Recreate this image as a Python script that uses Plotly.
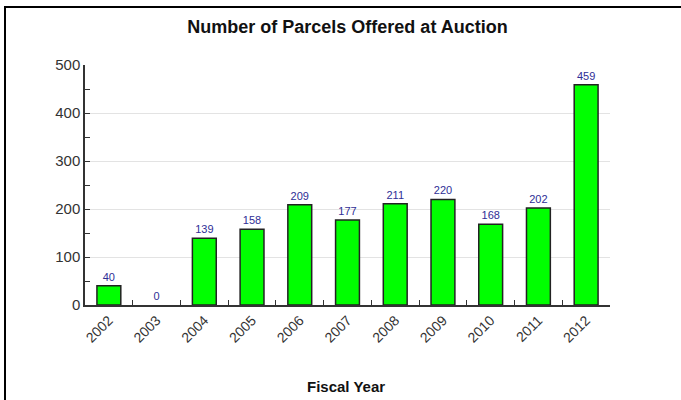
import plotly.graph_objects as go

years = ["2002", "2003", "2004", "2005", "2006", "2007", "2008", "2009", "2010", "2011", "2012"]
parcels = [40, 0, 139, 158, 209, 177, 211, 220, 168, 202, 459]

W, H = 681, 400
L, R, T, B = 85, 71, 65, 95
pw, ph = W - L - R, H - T - B

def px_x(px):
    return (px - L) / pw

def px_y(py):
    return (H - B - py) / ph

fig = go.Figure(go.Bar(
    x=years, y=parcels, width=0.5,
    marker=dict(color="#00ff00",
                line=dict(color="#222222", width=[1.5 if v > 0 else 0 for v in parcels])),
    text=[str(v) for v in parcels], textposition="outside",
    textfont=dict(family="Liberation Sans, Arial", size=11, color="#2e2e96"),
    cliponaxis=False, hoverinfo="skip",
))

fig.update_layout(
    width=W, height=H, margin=dict(l=L, r=R, t=T, b=B),
    paper_bgcolor="white", plot_bgcolor="white",
    font=dict(family="Liberation Sans, Arial", color="#222222"),
    showlegend=False,
    title=dict(text="<b>Number of Parcels Offered at Auction</b>", x=0.5, xref="paper",
               y=1 - 27 / H, yref="container", yanchor="middle", xanchor="center",
               font=dict(size=18, color="#111111")),
    xaxis=dict(type="category", tickangle=-45, tickson="boundaries", ticks="inside",
               ticklen=5, tickcolor="#333333", showline=True, linecolor="#333333", linewidth=1.5,
               showgrid=False, tickfont=dict(size=14, color="#333333")),
    yaxis=dict(range=[0, 500], dtick=100, ticks="inside", ticklen=5, tickcolor="#333333",
               showline=True, linecolor="#333333", linewidth=1.5, showgrid=True,
               gridcolor="#e3e3e3", gridwidth=1, zeroline=False,
               minor=dict(dtick=50, ticks="inside", ticklen=5, tickcolor="#333333", showgrid=False),
               tickfont=dict(size=15, color="#333333")),
    annotations=[dict(text="<b>Fiscal Year</b>", x=px_x(346), xref="paper", y=px_y(386), yref="paper",
                      xanchor="center", yanchor="middle", showarrow=False,
                      font=dict(size=15, color="#111111"))],
    shapes=[
        dict(type="line", xref="paper", yref="paper", x0=px_x(4), x1=px_x(W + 5), y0=px_y(7), y1=px_y(7),
             line=dict(color="black", width=2)),
        dict(type="line", xref="paper", yref="paper", x0=px_x(5), x1=px_x(5), y0=px_y(6), y1=px_y(H + 5),
             line=dict(color="black", width=2)),
    ],
)

fig.write_html("out.html", config={"displayModeBar": False},
               post_script="document.body.style.margin='0';document.body.style.overflow='hidden';")
